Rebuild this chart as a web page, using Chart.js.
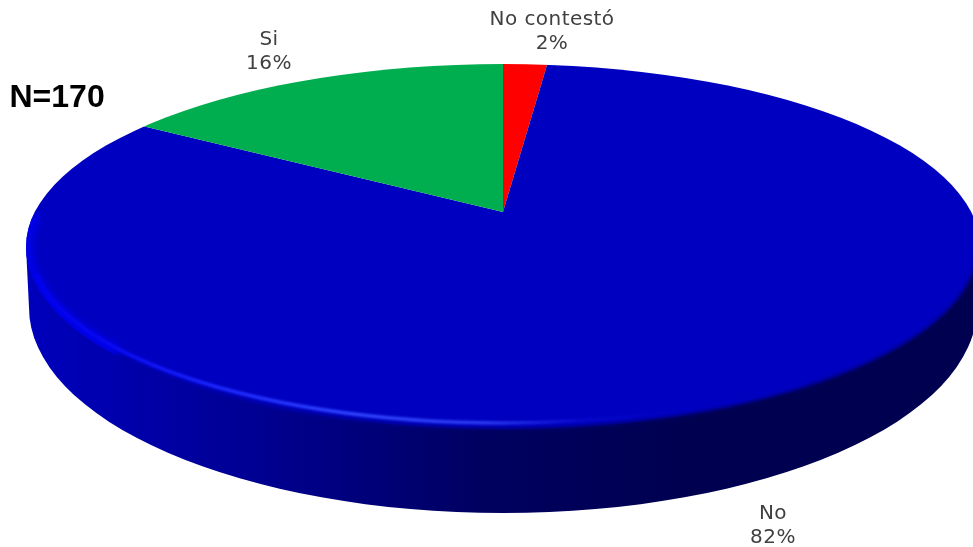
<!DOCTYPE html>
<html>
<head>
<meta charset="utf-8">
<title>N=170</title>
<style>
	html, body { margin: 0; padding: 0; background: #fff; overflow: hidden; }
	canvas { display: block; }
</style>
<script src="https://cdn.jsdelivr.net/npm/chart.js@4"></script>
</head>
<body>
<canvas id="pieChart" width="973" height="547"></canvas>
<script>
// ===== DATA =====
const categories = ['No contestó', 'No', 'Si'];
const values = [2, 82, 16];
const sliceColors = ['#FF0000', '#0000C0', '#00AD4F'];
const sampleLabel = 'N=170';

// ===== 3D LOOK =====
// top face, bottom face of the disc and the point where the slices meet
const topFace = { x: 503, y: 247, rx: 477, ry: 183 };
const bottomFace = { x: 503, y: 307.5, rx: 474, ry: 205.5 };
const apex = { x: 503, y: 212 };
// skew that makes the true percentages land on the tilted edges
const tilt = { sx: 1000, shear: -0.0271, sy: 0.4185 };

const labelSpots = [
	{ x: 552, y: 18 },
	{ x: 773, y: 512 },
	{ x: 269, y: 38 }
];

function horizontalGradient(ctx, stops) {
	const g = ctx.createLinearGradient(26, 0, 980, 0);
	stops.forEach(s => g.addColorStop(s[0], s[1]));
	return g;
}

const disc3d = {
	id: 'disc3d',
	beforeDatasetsDraw(chart) {
		const ctx = chart.ctx;
		const arc = chart.getDatasetMeta(0).data[0];

		// Side wall
		ctx.save();
		ctx.beginPath();
		ctx.moveTo(topFace.x + topFace.rx, topFace.y);
		ctx.lineTo(bottomFace.x + bottomFace.rx, bottomFace.y);
		ctx.ellipse(bottomFace.x, bottomFace.y, bottomFace.rx, bottomFace.ry, 0, 0, Math.PI);
		ctx.lineTo(topFace.x - topFace.rx, topFace.y);
		ctx.closePath();
		ctx.fillStyle = horizontalGradient(ctx, [
			[0, '#0000BC'], [0.1, '#0000AC'], [0.25, '#000090'],
			[0.48, '#000060'], [0.7, '#000050'], [1, '#000050']
		]);
		ctx.fill();
		ctx.restore();

		// Top face: slices are drawn oversized and cut to the ellipse
		ctx.save();
		ctx.beginPath();
		ctx.ellipse(topFace.x, topFace.y, topFace.rx, topFace.ry, 0, 0, Math.PI * 2);
		ctx.clip();
		const k = tilt.sx / arc.outerRadius;
		ctx.transform(k, k * tilt.shear, 0, k * tilt.sy, apex.x, apex.y);
		ctx.translate(-arc.x, -arc.y);
	},
	afterDatasetsDraw(chart) {
		const ctx = chart.ctx;
		ctx.restore();

		// Bevel along the front edge
		ctx.save();
		ctx.beginPath();
		ctx.ellipse(topFace.x, topFace.y, topFace.rx, topFace.ry + 3, 0, 0, Math.PI * 2);
		ctx.clip();

		// soft dark band between the highlight and the wall
		ctx.filter = 'blur(2px)';
		ctx.beginPath();
		ctx.ellipse(topFace.x, topFace.y, topFace.rx + 1, topFace.ry + 2, 0, 0, Math.PI * 0.9);
		ctx.strokeStyle = horizontalGradient(ctx, [
			[0, '#0000B0'], [0.25, '#000098'], [0.48, '#000064'], [1, '#000050']
		]);
		ctx.lineWidth = 7;
		ctx.stroke();

		// wide light band on the left side
		ctx.filter = 'blur(4px)';
		ctx.beginPath();
		ctx.ellipse(topFace.x, topFace.y, topFace.rx, topFace.ry - 3, 0, Math.PI * 0.8, Math.PI * 1.06);
		ctx.strokeStyle = '#0000EE';
		ctx.lineWidth = 13;
		ctx.stroke();

		// thin highlight, fading out to the right
		ctx.filter = 'blur(1.2px)';
		ctx.beginPath();
		ctx.ellipse(topFace.x, topFace.y, topFace.rx - 5, topFace.ry - 7, 0, Math.PI * 0.28, Math.PI * 0.95);
		ctx.strokeStyle = horizontalGradient(ctx, [
			[0, '#0000F0'], [0.08, '#0808F4'], [0.2, '#1C28FF'], [0.34, '#3044FF'], [0.48, '#2A3AF0'],
			[0.58, '#0808CC'], [0.68, '#0000C0'], [1, '#0000C0']
		]);
		ctx.lineWidth = 3.5;
		ctx.stroke();
		ctx.restore();

		// Labels
		const total = values.reduce((a, b) => a + b, 0);
		ctx.save();
		ctx.fillStyle = '#404040';
		ctx.font = '20px "DejaVu Sans"';
		ctx.letterSpacing = '0.45px';
		ctx.textAlign = 'center';
		ctx.textBaseline = 'middle';
		categories.forEach((name, i) => {
			const spot = labelSpots[i];
			ctx.fillText(name, spot.x, spot.y + 1.5);
			ctx.fillText(Math.round(values[i] / total * 100) + '%', spot.x, spot.y + 25.5);
		});
		ctx.letterSpacing = '0px';
		ctx.fillStyle = '#000';
		ctx.font = 'bold 32px "Liberation Sans"';
		ctx.textAlign = 'left';
		ctx.textBaseline = 'alphabetic';
		ctx.fillText(sampleLabel, 9.5, 106.5);
		ctx.restore();
	}
};

// ===== CHART =====
new Chart(document.getElementById('pieChart'), {
	type: 'pie',
	data: {
		labels: categories,
		datasets: [{
			data: values,
			backgroundColor: sliceColors,
			borderWidth: 0,
			clip: false
		}]
	},
	options: {
		responsive: false,
		animation: false,
		plugins: {
			legend: { display: false },
			tooltip: { enabled: false }
		}
	},
	plugins: [disc3d]
});
</script>
</body>
</html>
